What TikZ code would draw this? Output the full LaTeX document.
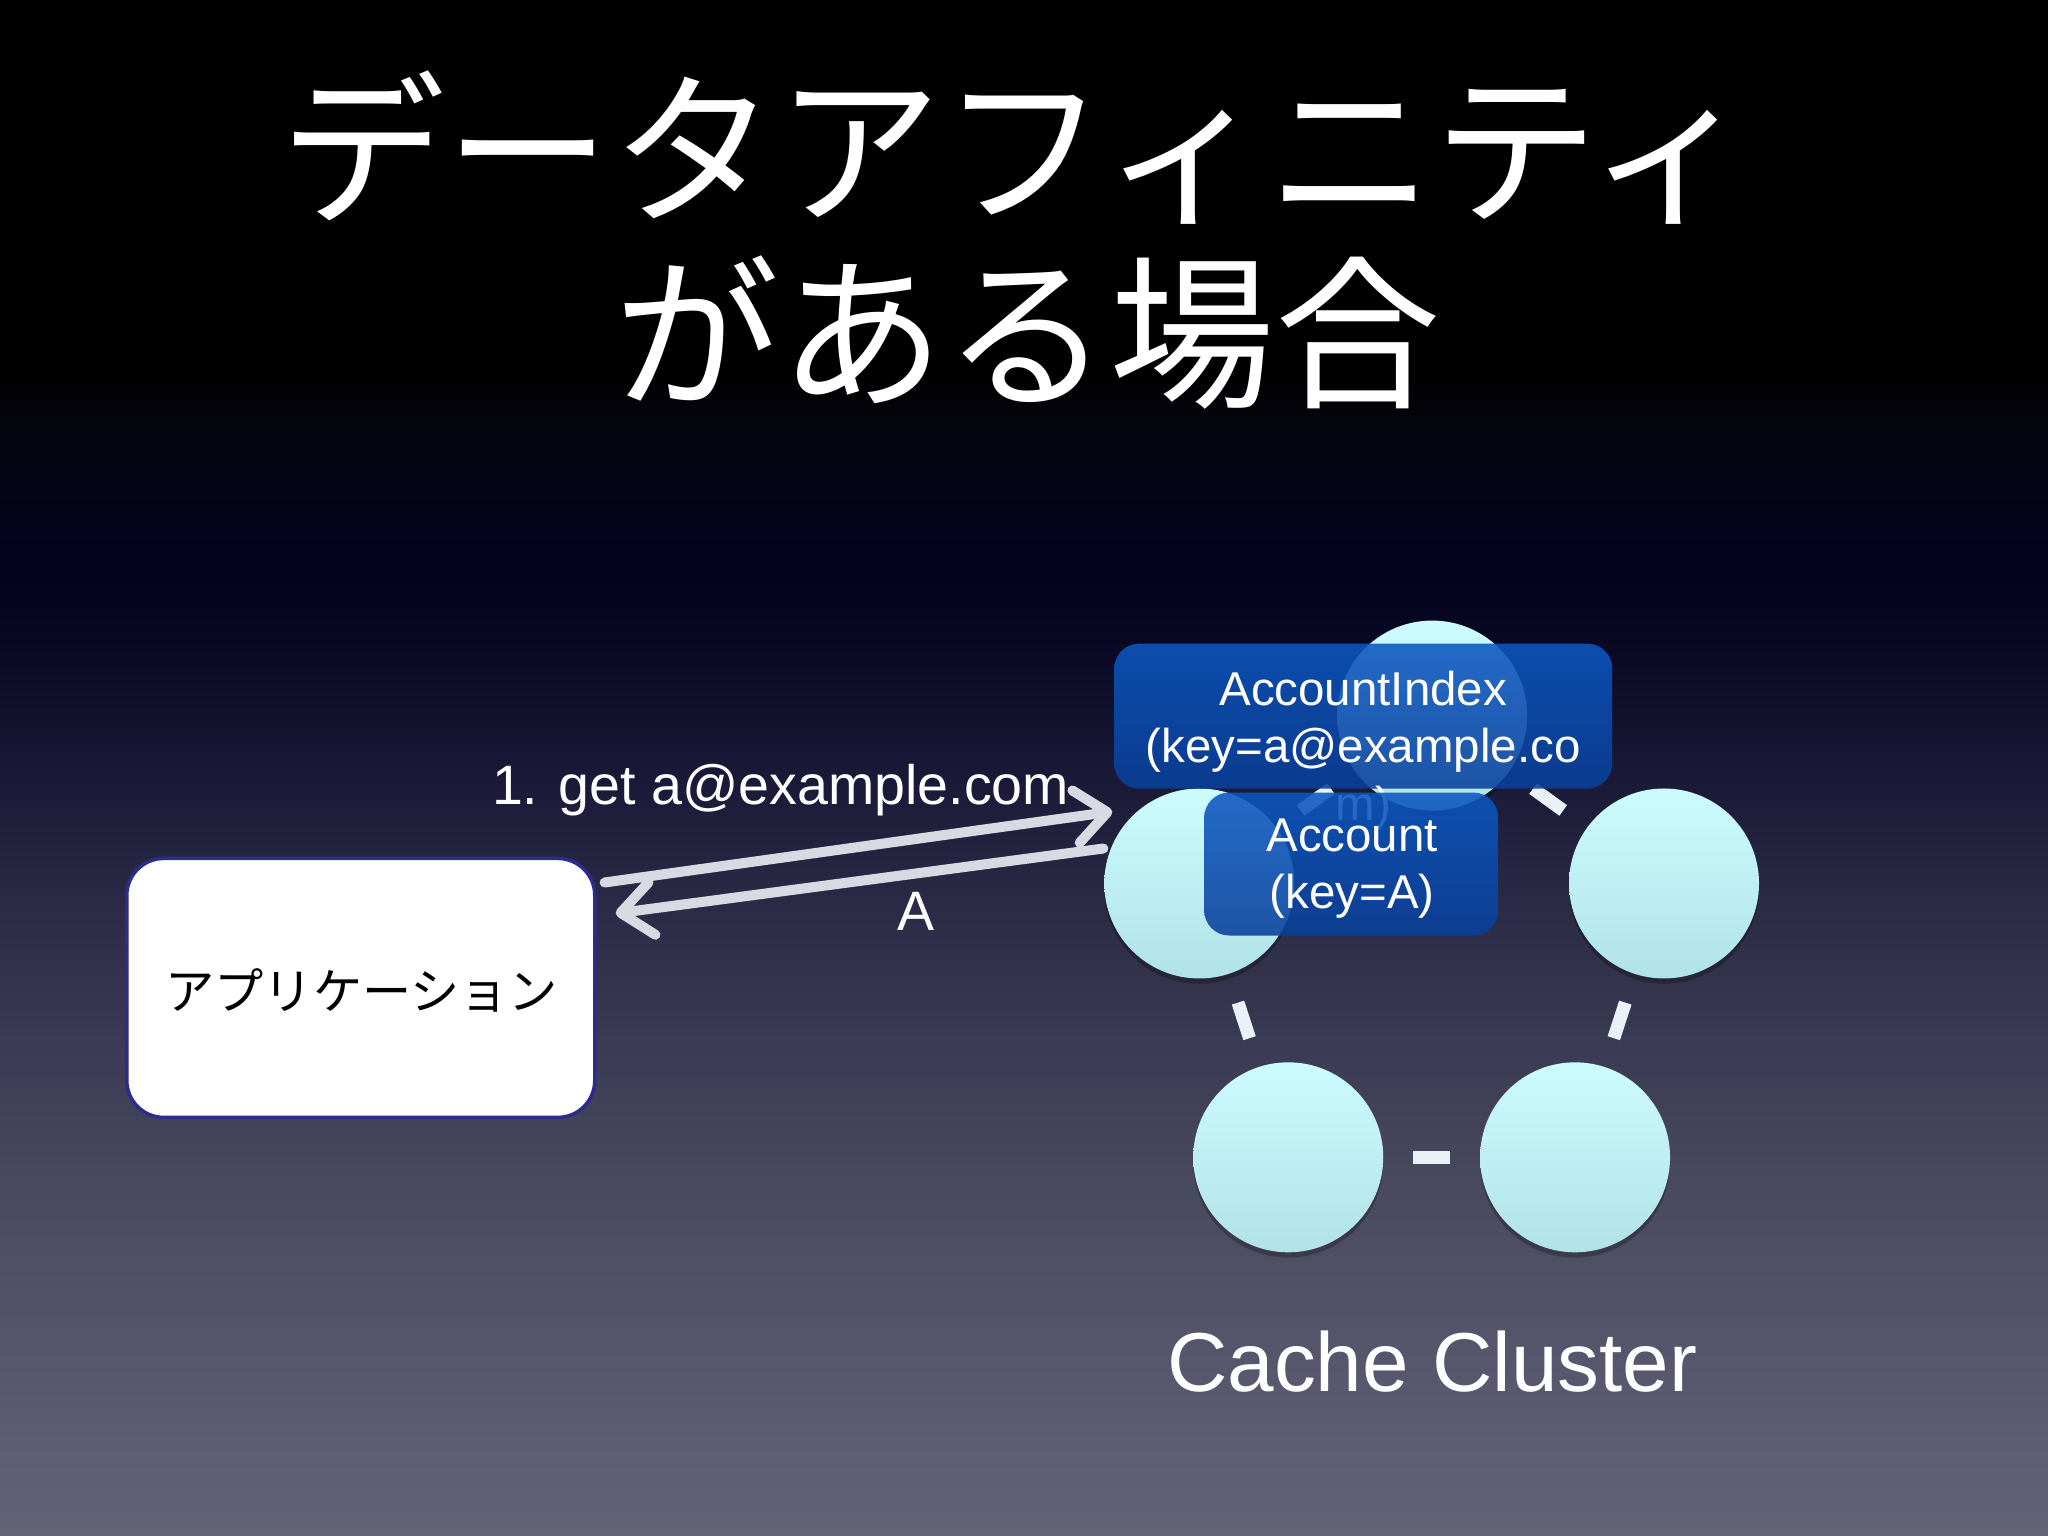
\documentclass[tikz,border=0pt]{standalone}
\usepackage{fontspec}
\setmainfont{Liberation Sans}
\newfontfamily\jp{Noto Sans CJK JP}
\usetikzlibrary{arrows.meta,calc,shadows}
\definecolor{bg0}{HTML}{636378}
\definecolor{bg1}{HTML}{55556C}
\definecolor{bg2}{HTML}{4A4A60}
\definecolor{bg3}{HTML}{3B3B55}
\definecolor{bg4}{HTML}{2A2A46}
\definecolor{bg5}{HTML}{1A1A38}
\definecolor{bg6}{HTML}{080824}
\definecolor{bg7}{HTML}{02021E}
\definecolor{bg8}{HTML}{050510}
\definecolor{cTop}{HTML}{CDFCFF}
\definecolor{cBot}{HTML}{B0E2E8}
\definecolor{dashcol}{HTML}{EAF2F7}
\definecolor{arrcol}{HTML}{D9D9E3}
\definecolor{bTop}{HTML}{0C57C1}
\definecolor{bBot}{HTML}{09409B}
\definecolor{appborder}{HTML}{2C2C8A}
\pgfdeclareverticalshading{bgshade}{100bp}{color(0bp)=(bg0); color(25bp)=(bg0); color(31.05bp)=(bg1); color(35.94bp)=(bg2); color(40.82bp)=(bg3); color(45.70bp)=(bg4); color(49.61bp)=(bg5); color(54.17bp)=(bg6); color(56.77bp)=(bg7); color(60.68bp)=(bg8); color(63.28bp)=(black); color(100bp)=(black)}
\tikzset{
  cnode/.style={circle, minimum size=1.9cm, inner sep=0pt, draw=none,
    top color=cTop, bottom color=cBot,
    drop shadow={shadow xshift=0pt, shadow yshift=-1.5pt, opacity=0.25, fill=black}},
  link/.style={line width=3.7pt, draw=dashcol},
  bluebox/.style={rectangle, rounded corners=0.25cm, inner sep=0pt, draw=none,
    top color=bTop, bottom color=bBot, fill opacity=0.88},
  boxtext/.style={text=white, align=center, inner sep=0pt,
    font=\fontsize{13.5}{16.4}\selectfont},
  lbl/.style={text=white, inner sep=0pt, font=\fontsize{15.8}{19}\selectfont},
  arr/.style={line width=2.85pt, draw=arrcol, line cap=round,
    -{Straight Barb[length=9pt,width=15pt,round]}},
  appbox/.style={rectangle, rounded corners=0.37cm, fill=white, draw=appborder,
    line width=1pt, minimum width=4.68cm, minimum height=2.59cm},
  title/.style={text=white, inner sep=0pt, font=\jp\fontsize{47}{52}\selectfont}
}
\begin{document}
\begin{tikzpicture}
\shade[shading=bgshade] (0,0) rectangle (20.48,-15.36);
\useasboundingbox (0,0) rectangle (20.48,-15.36);
\begin{scope}[x=0.01cm,y=-0.01cm]
% title
\node[title] (t1) at (1018,148) {データアフィニティ};
\node[title] (t2) at (1028,333) {がある場合};
% application
\node[appbox] (app) at (361,988.5) {};
\node[inner sep=0pt, font=\jp\fontsize{14}{16}\selectfont, text=black] (apptext) at (362,991) {アプリケーション};
% cache nodes
\node[cnode] (c1) at (1433,716) {};
\node[cnode] (c2) at (1200,884) {};
\node[cnode] (c3) at (1665,884) {};
\node[cnode] (c4) at (1289,1158) {};
\node[cnode] (c5) at (1576,1158) {};
\draw[link] ($(c1)!0.435!(c2)$) -- ($(c1)!0.565!(c2)$);
\draw[link] ($(c1)!0.435!(c3)$) -- ($(c1)!0.565!(c3)$);
\draw[link] ($(c2)!0.435!(c4)$) -- ($(c2)!0.565!(c4)$);
\draw[link] ($(c3)!0.435!(c5)$) -- ($(c3)!0.565!(c5)$);
\draw[link] ($(c4)!0.435!(c5)$) -- ($(c4)!0.565!(c5)$);
\node[lbl, font=\fontsize{23.8}{28}\selectfont] (cc) at (1433,1362) {Cache Cluster};
% data boxes
\node[bluebox, minimum width=4.98cm, minimum height=1.45cm] (aibox) at (1364,716.5) {};
\node[boxtext] (aitext) at (1364,751) {AccountIndex\\(key=a@example.co\\m)};
\node[bluebox, minimum width=2.94cm, minimum height=1.43cm] (abox) at (1352,864.5) {};
\node[boxtext] (atext) at (1353,869) {Account\\(key=A)};
% arrows
\coordinate (rq1) at (605,883);
\coordinate (rq2) at (1113,812);
\coordinate (rs1) at (1104,849);
\coordinate (rs2) at (616,914);
\draw[arr] (rq1) -- (rq2);
\draw[arr] (rs1) -- (rs2);
\node[lbl] (getlbl) at (781,791) {1. get a@example.com};
\node[lbl] (albl) at (917,912) {A};
\end{scope}
\end{tikzpicture}
\end{document}
